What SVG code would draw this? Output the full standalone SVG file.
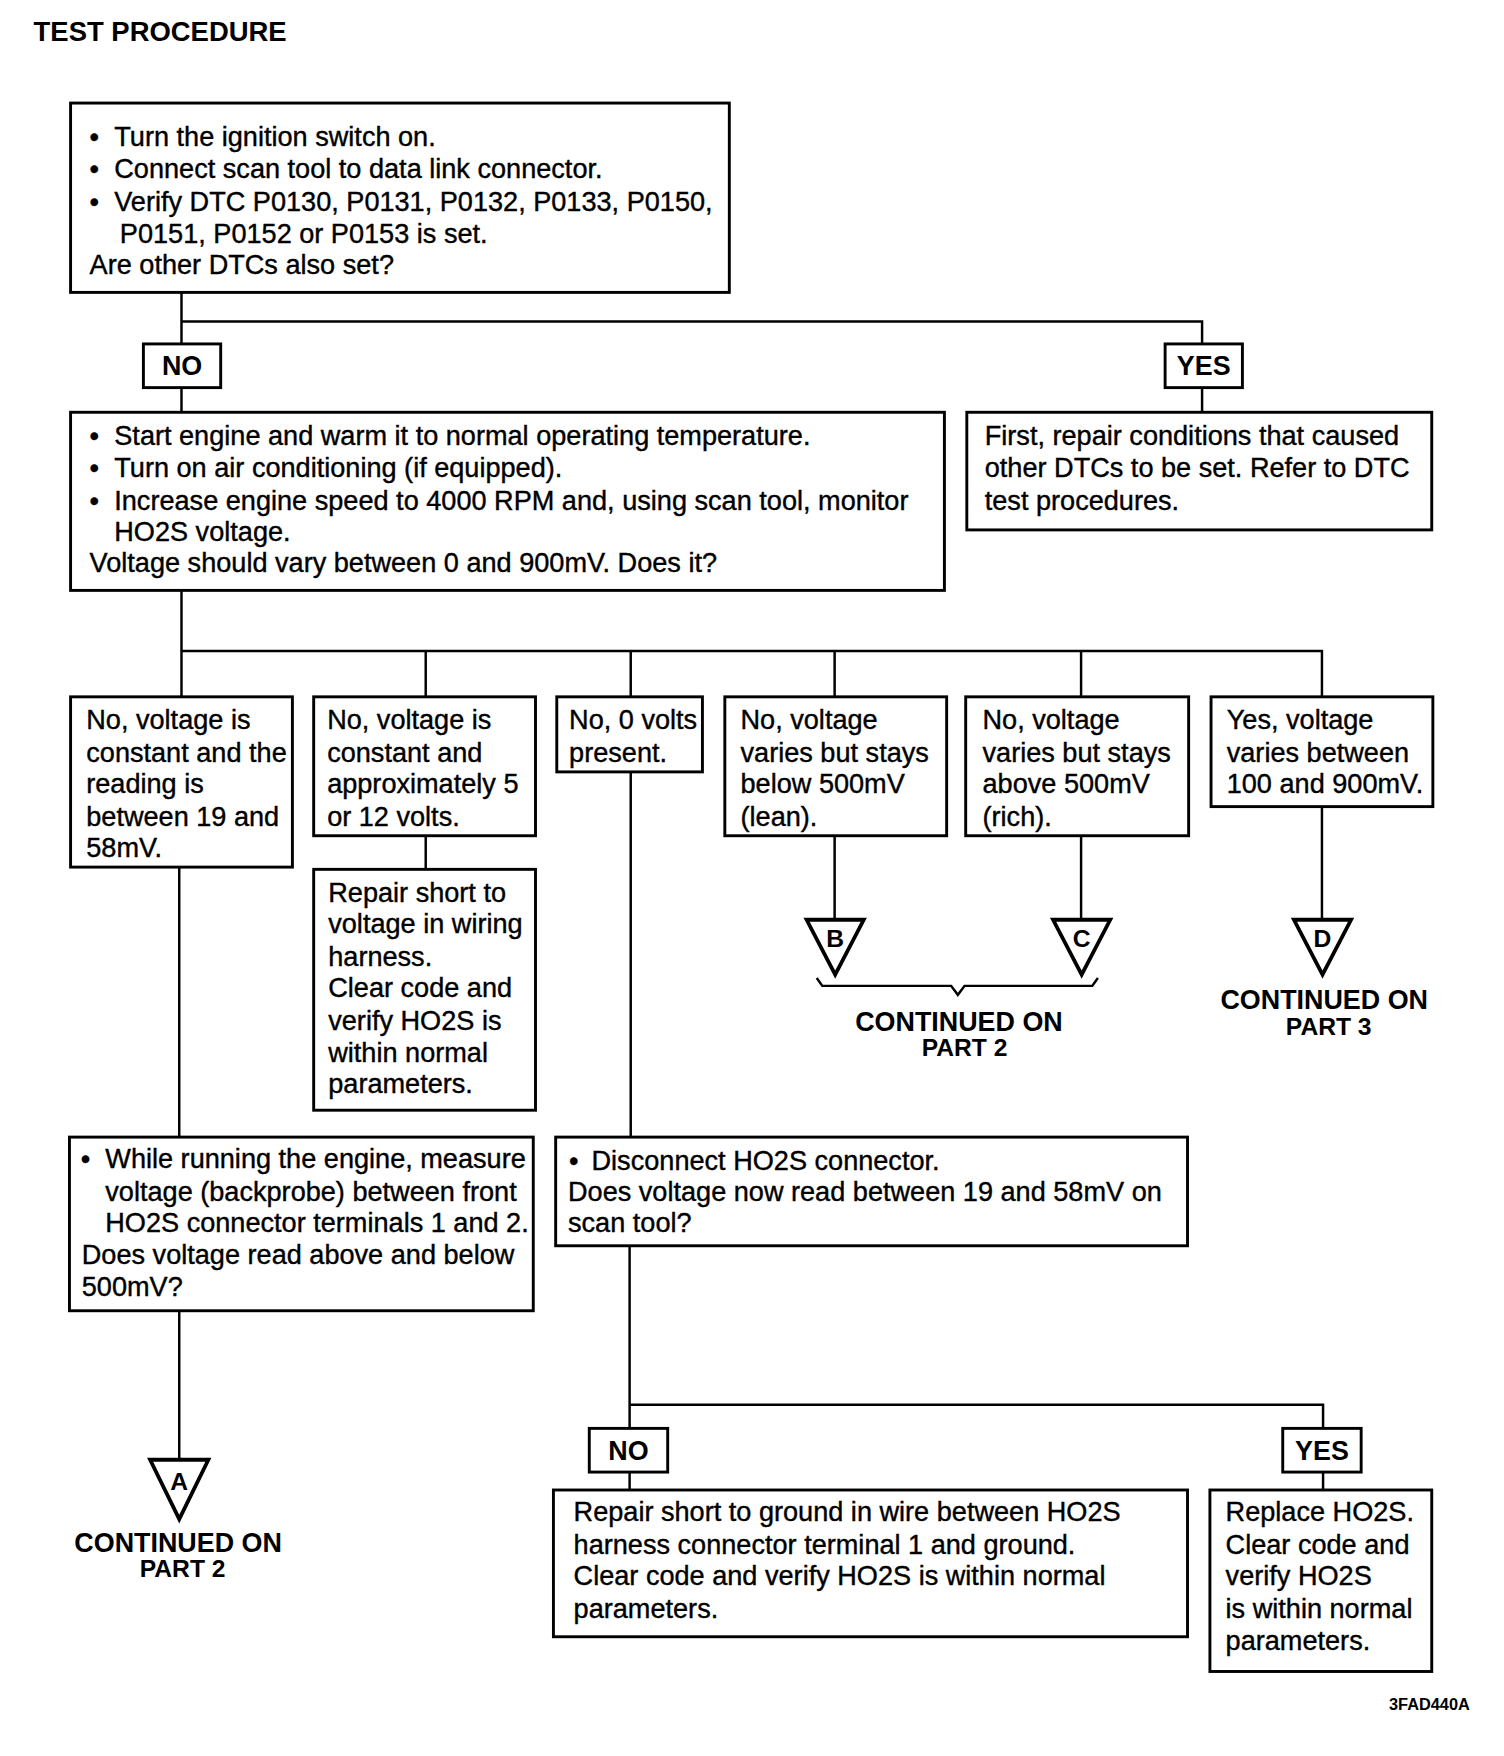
<svg xmlns="http://www.w3.org/2000/svg" width="1504" height="1756" viewBox="0 0 1504 1756">
<style>
.box{fill:#fff;stroke:#000;stroke-width:2.6}
.ln{fill:none;stroke:#000;stroke-width:2.2}
.t{font-family:"Liberation Sans",Arial,sans-serif;font-size:24.2px;fill:#000;stroke:#000;stroke-width:0.35}
.b{font-family:"Liberation Sans",Arial,sans-serif;font-weight:bold;fill:#000}
.lbl{font-size:24px}
.cont{font-size:24px;text-anchor:middle}
.part{font-size:22px;text-anchor:middle}
.tri{fill:#fff;stroke:#000;stroke-width:3.4;stroke-linejoin:miter}
.tl{font-size:22px;text-anchor:middle}
</style>
<rect width="1504" height="1756" fill="#fff"/>
<g transform="scale(1.1203)">
<text class="b" x="30" y="37" font-size="24.5">TEST PROCEDURE</text>

<g id="connectors">
<path class="ln" d="M162,261V307M162,287H1073V307M162,346V368M1073,346V368"/>
<path class="ln" d="M162,527V622M162,581H1180V622M380,581V622M563,581V622M745,581V622M965,581V622"/>
<path class="ln" d="M380,746V776M160,774V1015M563,689V1015M160,1170V1302"/>
<path class="ln" d="M745,746V820M965,746V820M1180,720V820"/>
<path class="ln" d="M562,1112V1275M562,1254H1181V1275M562,1314V1330M1181,1314V1330"/>
<path class="ln" d="M729,873L734,880H849L855,888L861,880H975L980,873"/>
</g>

<g id="n1">
<rect class="box" x="63" y="92" width="588" height="169"/>
<text class="t" x="80" y="130">•</text><text class="t" x="102" y="130">Turn the ignition switch on.</text>
<text class="t" x="80" y="159">•</text><text class="t" x="102" y="159">Connect scan tool to data link connector.</text>
<text class="t" x="80" y="188">•</text><text class="t" x="102" y="188">Verify DTC P0130, P0131, P0132, P0133, P0150,</text>
<text class="t" x="107" y="217">P0151, P0152 or P0153 is set.</text>
<text class="t" x="80" y="245">Are other DTCs also set?</text>
</g>

<g id="no1"><rect class="box" x="128" y="307" width="69" height="39"/><text class="b lbl" x="162.5" y="335" text-anchor="middle">NO</text></g>
<g id="yes1"><rect class="box" x="1040" y="307" width="69" height="39"/><text class="b lbl" x="1074.5" y="335" text-anchor="middle">YES</text></g>

<g id="n2">
<rect class="box" x="63" y="368" width="780" height="159"/>
<text class="t" x="80" y="397">•</text><text class="t" x="102" y="397">Start engine and warm it to normal operating temperature.</text>
<text class="t" x="80" y="426">•</text><text class="t" x="102" y="426">Turn on air conditioning (if equipped).</text>
<text class="t" x="80" y="455">•</text><text class="t" x="102" y="455">Increase engine speed to 4000 RPM and, using scan tool, monitor</text>
<text class="t" x="102" y="483">HO2S voltage.</text>
<text class="t" x="80" y="511">Voltage should vary between 0 and 900mV. Does it?</text>
</g>

<g id="n3">
<rect class="box" x="863" y="368" width="415" height="105"/>
<text class="t" x="879" y="397">First, repair conditions that caused</text>
<text class="t" x="879" y="426">other DTCs to be set. Refer to DTC</text>
<text class="t" x="879" y="455">test procedures.</text>
</g>

<g id="n4">
<rect class="box" x="63" y="622" width="198" height="152"/>
<text class="t" x="77" y="651">No, voltage is</text>
<text class="t" x="77" y="680">constant and the</text>
<text class="t" x="77" y="708">reading is</text>
<text class="t" x="77" y="737">between 19 and</text>
<text class="t" x="77" y="765">58mV.</text>
</g>

<g id="n5">
<rect class="box" x="280" y="622" width="198" height="124"/>
<text class="t" x="292" y="651">No, voltage is</text>
<text class="t" x="292" y="680">constant and</text>
<text class="t" x="292" y="708">approximately 5</text>
<text class="t" x="292" y="737">or 12 volts.</text>
</g>

<g id="n6">
<rect class="box" x="497" y="622" width="130" height="67"/>
<text class="t" x="508" y="651">No, 0 volts</text>
<text class="t" x="508" y="680">present.</text>
</g>

<g id="n7">
<rect class="box" x="647" y="622" width="198" height="124"/>
<text class="t" x="661" y="651">No, voltage</text>
<text class="t" x="661" y="680">varies but stays</text>
<text class="t" x="661" y="708">below 500mV</text>
<text class="t" x="661" y="737">(lean).</text>
</g>

<g id="n8">
<rect class="box" x="862" y="622" width="199" height="124"/>
<text class="t" x="877" y="651">No, voltage</text>
<text class="t" x="877" y="680">varies but stays</text>
<text class="t" x="877" y="708">above 500mV</text>
<text class="t" x="877" y="737">(rich).</text>
</g>

<g id="n9">
<rect class="box" x="1081" y="622" width="198" height="98"/>
<text class="t" x="1095" y="651">Yes, voltage</text>
<text class="t" x="1095" y="680">varies between</text>
<text class="t" x="1095" y="708">100 and 900mV.</text>
</g>

<g id="n10">
<rect class="box" x="280" y="776" width="198" height="215"/>
<text class="t" x="293" y="805">Repair short to</text>
<text class="t" x="293" y="833">voltage in wiring</text>
<text class="t" x="293" y="862">harness.</text>
<text class="t" x="293" y="890">Clear code and</text>
<text class="t" x="293" y="919">verify HO2S is</text>
<text class="t" x="293" y="948">within normal</text>
<text class="t" x="293" y="976">parameters.</text>
</g>

<g id="n11">
<rect class="box" x="62" y="1015" width="414" height="155"/>
<text class="t" x="72" y="1043">•</text><text class="t" x="94" y="1043">While running the engine, measure</text>
<text class="t" x="94" y="1072">voltage (backprobe) between front</text>
<text class="t" x="94" y="1100">HO2S connector terminals 1 and 2.</text>
<text class="t" x="73" y="1128">Does voltage read above and below</text>
<text class="t" x="73" y="1157">500mV?</text>
</g>

<g id="n12">
<rect class="box" x="496" y="1015" width="564" height="97"/>
<text class="t" x="508" y="1044">•</text><text class="t" x="528" y="1044">Disconnect HO2S connector.</text>
<text class="t" x="507" y="1072">Does voltage now read between 19 and 58mV on</text>
<text class="t" x="507" y="1100">scan tool?</text>
</g>

<g id="no2"><rect class="box" x="526" y="1275" width="70" height="39"/><text class="b lbl" x="561" y="1303" text-anchor="middle">NO</text></g>
<g id="yes2"><rect class="box" x="1145" y="1275" width="70" height="39"/><text class="b lbl" x="1180" y="1303" text-anchor="middle">YES</text></g>

<g id="n13">
<rect class="box" x="494" y="1330" width="566" height="131"/>
<text class="t" x="512" y="1358">Repair short to ground in wire between HO2S</text>
<text class="t" x="512" y="1387">harness connector terminal 1 and ground.</text>
<text class="t" x="512" y="1415">Clear code and verify HO2S is within normal</text>
<text class="t" x="512" y="1444">parameters.</text>
</g>

<g id="n14">
<rect class="box" x="1080" y="1330" width="198" height="162"/>
<text class="t" x="1094" y="1358">Replace HO2S.</text>
<text class="t" x="1094" y="1387">Clear code and</text>
<text class="t" x="1094" y="1415">verify HO2S</text>
<text class="t" x="1094" y="1444">is within normal</text>
<text class="t" x="1094" y="1473">parameters.</text>
</g>

<g id="offA">
<path class="tri" d="M134,1303H186L160,1356Z"/>
<text class="b tl" x="160" y="1330">A</text>
<text class="b cont" x="159" y="1385">CONTINUED ON</text>
<text class="b part" x="163" y="1408">PART 2</text>
</g>
<g id="offB">
<path class="tri" d="M720,821H771L745.5,870Z"/>
<text class="b tl" x="745.5" y="845">B</text>
</g>
<g id="offC">
<path class="tri" d="M940,821H991L965.5,870Z"/>
<text class="b tl" x="965.5" y="845">C</text>
</g>
<text class="b cont" x="856" y="920">CONTINUED ON</text>
<text class="b part" x="861" y="943">PART 2</text>
<g id="offD">
<path class="tri" d="M1155,821H1206L1180.5,870Z"/>
<text class="b tl" x="1180.5" y="845">D</text>
<text class="b cont" x="1182" y="901">CONTINUED ON</text>
<text class="b part" x="1186" y="924">PART 3</text>
</g>
<text class="b" x="1312" y="1526" font-size="14.6" text-anchor="end">3FAD440A</text>
</g>
</svg>
